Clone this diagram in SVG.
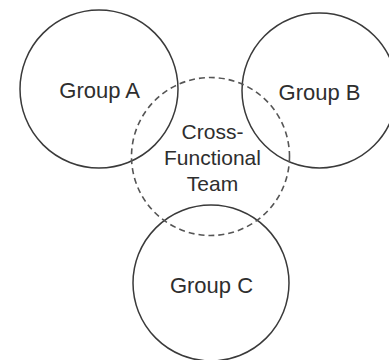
<svg xmlns="http://www.w3.org/2000/svg" width="389" height="360" viewBox="0 0 389 360">
  <style>
    .ring { fill: none; stroke: #3a3a3a; stroke-width: 1.5; }
    .team { fill: none; stroke: #555; stroke-width: 1.6; stroke-dasharray: 6 4; }
    .label { font-family: "Liberation Sans", Arial, sans-serif; font-size: 22px; fill: #2e2e2e; text-anchor: middle; }
    .label.small { font-size: 21px; }
  </style>
  <rect width="389" height="360" fill="#ffffff"/>
  <g id="group-a">
    <circle class="ring" cx="99" cy="89" r="79"/>
    <text class="label" x="99.7" y="97.5">Group A</text>
  </g>
  <g id="group-b">
    <circle class="ring" cx="319.5" cy="90.5" r="77.5"/>
    <text class="label" x="319.5" y="100">Group B</text>
  </g>
  <g id="group-c">
    <circle class="ring" cx="211" cy="283" r="78"/>
    <text class="label" x="211.5" y="293">Group C</text>
  </g>
  <g id="cross-functional-team">
    <circle class="team" cx="210.5" cy="156.5" r="79"/>
    <text class="label small" x="212.5" y="138.5">Cross-</text>
    <text class="label small" x="212.5" y="165">Functional</text>
    <text class="label small" x="212.5" y="191">Team</text>
  </g>
  <g id="connectors"/>
</svg>
